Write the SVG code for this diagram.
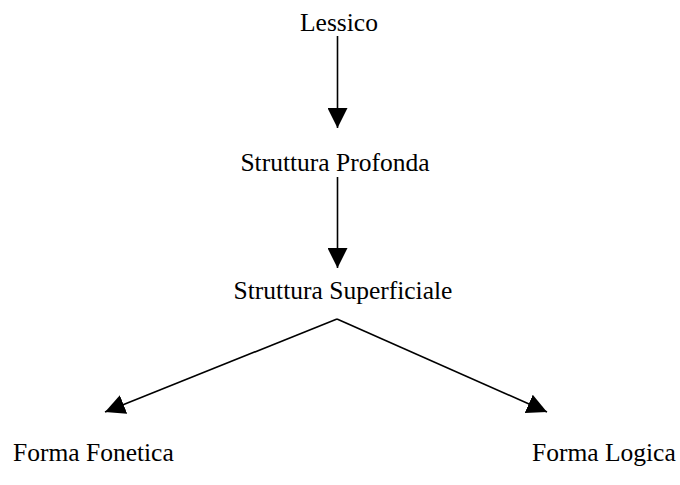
<svg xmlns="http://www.w3.org/2000/svg" width="680" height="485" viewBox="0 0 680 485">
  <style>
    .lbl { font-family: "Liberation Serif", "Times New Roman", serif; font-size: 25.5px; fill: #000; }
    .edge { stroke: #000; stroke-width: 1.6; fill: none; marker-end: url(#head); }
  </style>
  <defs>
    <marker id="head" markerUnits="userSpaceOnUse" markerWidth="20" markerHeight="20" refX="20" refY="10" orient="auto" viewBox="0 0 20 20">
      <path d="M0,0 L20,10 L0,20 z" fill="#000"/>
    </marker>
  </defs>
  <rect width="680" height="485" fill="#fff"/>

  <g id="connectors">
    <line class="edge" x1="337.5" y1="36" x2="337.5" y2="128"/>
    <line class="edge" x1="337.5" y1="177" x2="337.5" y2="268"/>
    <path class="edge" d="M337,319 L105,412"/>
    <path class="edge" d="M337,319 L547,412"/>
  </g>

  <g id="lessico"><text class="lbl" x="339" y="31" text-anchor="middle">Lessico</text></g>
  <g id="struttura-profonda"><text class="lbl" x="335" y="171" text-anchor="middle">Struttura Profonda</text></g>
  <g id="struttura-superficiale"><text class="lbl" x="343" y="299" text-anchor="middle">Struttura Superficiale</text></g>
  <g id="forma-fonetica"><text class="lbl" x="13" y="461">Forma Fonetica</text></g>
  <g id="forma-logica"><text class="lbl" x="532" y="461">Forma Logica</text></g>
</svg>
